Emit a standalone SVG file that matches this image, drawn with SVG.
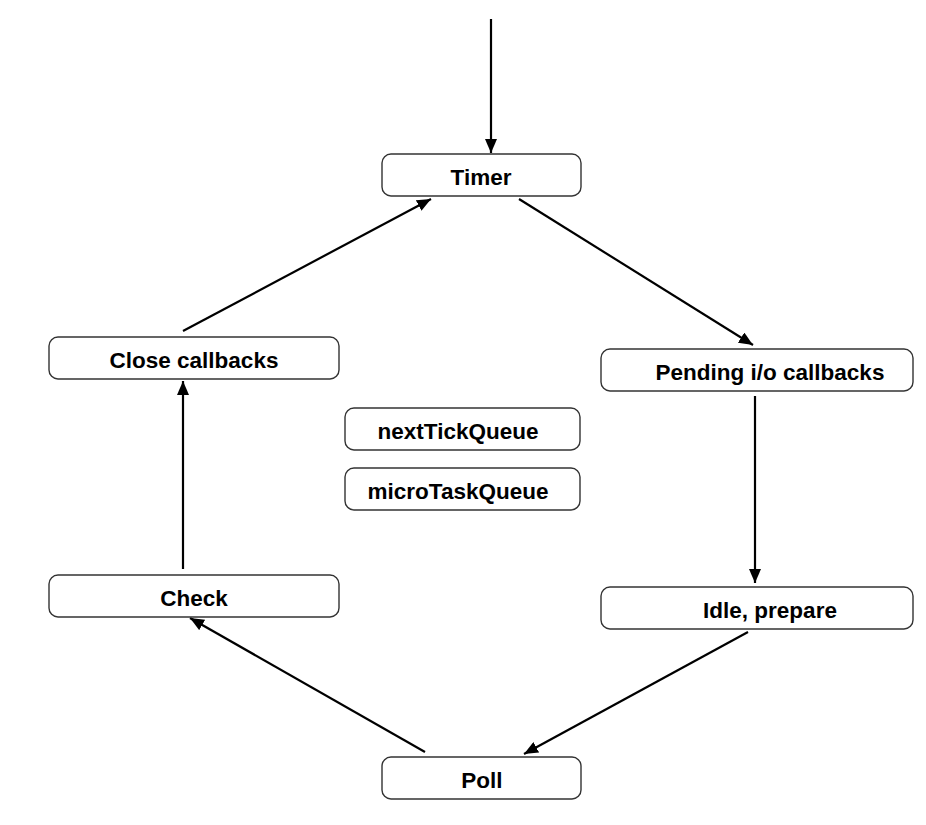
<svg xmlns="http://www.w3.org/2000/svg" width="926" height="825" viewBox="0 0 926 825">
<defs>
<marker id="ah" markerUnits="userSpaceOnUse" markerWidth="15" markerHeight="12" refX="14" refY="6" orient="auto">
<path d="M0,0 L14,6 L0,12 Z" fill="#000"/>
</marker>
<style>
.box{fill:#fff;stroke:#333;stroke-width:1.4}
.lbl{font-family:"Liberation Sans",Arial,sans-serif;font-weight:bold;font-size:22.5px;fill:#000;text-anchor:middle}
.edge{stroke:#000;stroke-width:2.2;fill:none;marker-end:url(#ah)}
</style>
</defs>
<rect width="926" height="825" fill="#fff"/>
<g id="connectors">
<line class="edge" x1="491" y1="19" x2="491" y2="153"/>
<line class="edge" x1="183" y1="331" x2="431" y2="199"/>
<line class="edge" x1="519" y1="199" x2="753" y2="345"/>
<line class="edge" x1="755" y1="396" x2="755" y2="583"/>
<line class="edge" x1="748" y1="632" x2="524" y2="754"/>
<line class="edge" x1="425" y1="752" x2="190" y2="618"/>
<line class="edge" x1="183" y1="569" x2="183" y2="381"/>
</g>
<g id="timer"><rect class="box" x="382" y="154" width="199" height="42" rx="9"/><text class="lbl" x="481" y="185">Timer</text></g>
<g id="close"><rect class="box" x="49" y="337" width="290" height="42" rx="9"/><text class="lbl" x="194" y="368">Close callbacks</text></g>
<g id="pending"><rect class="box" x="601" y="349" width="312" height="42" rx="9"/><text class="lbl" x="770" y="380">Pending i/o callbacks</text></g>
<g id="nexttick"><rect class="box" x="345" y="408" width="235" height="42" rx="9"/><text class="lbl" x="458" y="439">nextTickQueue</text></g>
<g id="microtask"><rect class="box" x="345" y="468" width="235" height="42" rx="9"/><text class="lbl" x="458" y="499">microTaskQueue</text></g>
<g id="check"><rect class="box" x="49" y="575" width="290" height="42" rx="9"/><text class="lbl" x="194" y="606">Check</text></g>
<g id="idle"><rect class="box" x="601" y="587" width="312" height="42" rx="9"/><text class="lbl" x="770" y="618">Idle, prepare</text></g>
<g id="poll"><rect class="box" x="382" y="757" width="199" height="42" rx="9"/><text class="lbl" x="482" y="788">Poll</text></g>
</svg>
